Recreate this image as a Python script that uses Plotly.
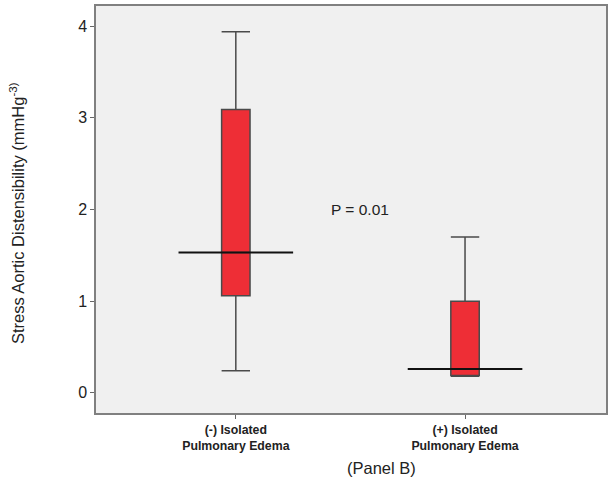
import plotly.graph_objects as go

categories = ["<b>(-) Isolated</b><br><b>Pulmonary Edema</b>", "<b>(+) Isolated</b><br><b>Pulmonary Edema</b>"]
positions = [0, 1]
lower_whisker = [0.24, 0.18]
q1 = [1.06, 0.19]
median = [1.53, 0.26]
q3 = [3.09, 1.00]
upper_whisker = [3.94, 1.70]
y_ticks = [0, 1, 2, 3, 4]
p_label = "P = 0.01"
y_title = "Stress Aortic Distensibility (mmHg<sup>-3)</sup>"
x_title = "(Panel B)"

fig = go.Figure()
fig.add_trace(go.Box(
    x=positions, q1=q1, median=median, q3=q3,
    lowerfence=lower_whisker, upperfence=upper_whisker,
    width=0.124, whiskerwidth=1,
    fillcolor="rgb(238,46,54)",
    line=dict(color="#4a4a4a", width=1.5),
    boxpoints=False, showlegend=False, hoverinfo="skip",
))
half = 0.25
for xp, m in zip(positions, median):
    fig.add_trace(go.Scatter(
        x=[xp - half, xp + half], y=[m, m], mode="lines",
        line=dict(color="#111111", width=2), showlegend=False, hoverinfo="skip",
    ))

fig.add_annotation(x=0.54, y=2.0, text=p_label, showarrow=False,
                   xanchor="center", yanchor="middle",
                   font=dict(size=15.5, color="#222222"))
fig.add_annotation(xref="paper", yref="paper", x=-0.155, y=0.491, text=y_title,
                   xanchor="center", yanchor="middle",
                   textangle=-90, showarrow=False, font=dict(size=16.5, color="#222222"))
fig.add_annotation(xref="paper", yref="paper", x=0.56, y=-0.135, text=x_title,
                   xanchor="center", yanchor="middle",
                   showarrow=False, font=dict(size=16.5, color="#222222"))

font_family = "Liberation Sans, Arial, sans-serif"
fig.update_layout(
    width=611, height=480,
    margin=dict(l=96, r=5, t=6, b=67),
    paper_bgcolor="white", plot_bgcolor="#f0f0f0",
    font=dict(family=font_family, color="#222222"),
    xaxis=dict(
        range=[-0.61, 1.615], tickvals=positions, ticktext=categories,
        tickfont=dict(size=12.3, color="#222222"),
        ticks="outside", ticklen=4, tickcolor="#666666",
        showgrid=False, zeroline=False, automargin=False,
        showline=True, linecolor="#808080", linewidth=1.5, mirror=True,
    ),
    yaxis=dict(
        range=[-0.22, 4.22], tickvals=y_ticks,
        tickfont=dict(size=16, color="#222222"),
        ticks="outside", ticklen=4, tickcolor="#666666",
        showgrid=False, zeroline=False, automargin=False,
        showline=True, linecolor="#808080", linewidth=1.5, mirror=True,
    ),
)
fig.write_html("out.html", config={"displayModeBar": False},
               post_script="document.body.style.margin='0';")
